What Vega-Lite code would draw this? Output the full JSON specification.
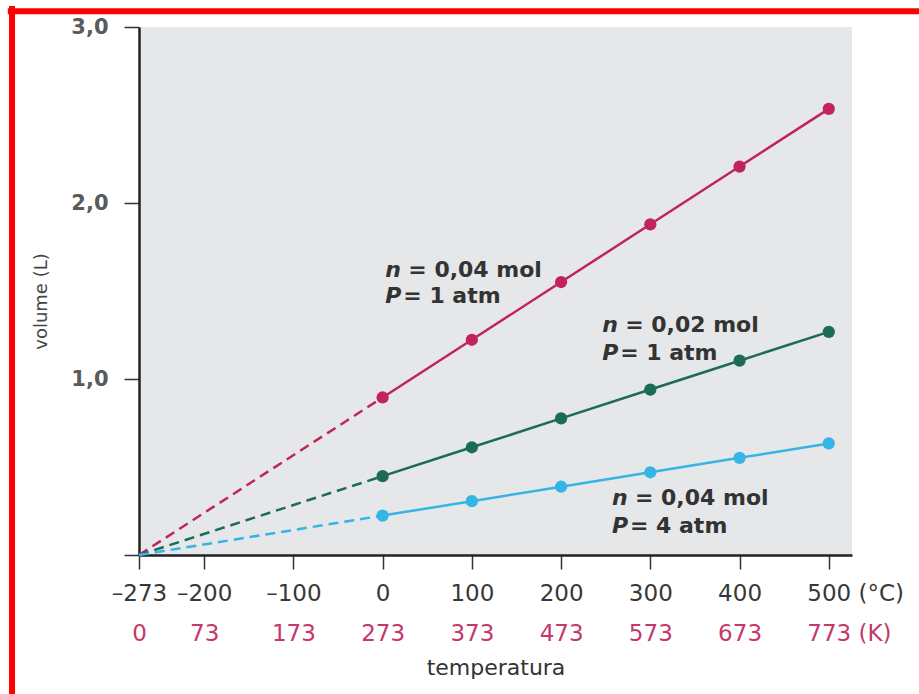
{
  "$schema": "https://vega.github.io/schema/vega-lite/v6.json",
  "width": 713,
  "height": 528,
  "autosize": "none",
  "padding": {"left": 139, "top": 27, "right": 67, "bottom": 139},
  "background": "white",
  "config": {
    "view": {"fill": "#e6e7e9", "stroke": null},
    "font": "DejaVu Sans"
  },
  "datasets": {
    "pts": [
      {"s": "r", "T": 0, "V": 0.895}, {"s": "r", "T": 100, "V": 1.223}, {"s": "r", "T": 200, "V": 1.551},
      {"s": "r", "T": 300, "V": 1.879}, {"s": "r", "T": 400, "V": 2.207}, {"s": "r", "T": 500, "V": 2.535},
      {"s": "g", "T": 0, "V": 0.448}, {"s": "g", "T": 100, "V": 0.612}, {"s": "g", "T": 200, "V": 0.776},
      {"s": "g", "T": 300, "V": 0.94}, {"s": "g", "T": 400, "V": 1.104}, {"s": "g", "T": 500, "V": 1.268},
      {"s": "b", "T": 0, "V": 0.224}, {"s": "b", "T": 100, "V": 0.306}, {"s": "b", "T": 200, "V": 0.388},
      {"s": "b", "T": 300, "V": 0.47}, {"s": "b", "T": 400, "V": 0.552}, {"s": "b", "T": 500, "V": 0.634}
    ],
    "dash": [
      {"s": "r", "T": -273, "V": 0}, {"s": "r", "T": 0, "V": 0.895},
      {"s": "g", "T": -273, "V": 0}, {"s": "g", "T": 0, "V": 0.448},
      {"s": "b", "T": -273, "V": 0}, {"s": "b", "T": 0, "V": 0.224}
    ],
    "notes": [
      {"T": 3, "V": 1.581, "a": "n", "b": "= 0,04 mol"},
      {"T": 3, "V": 1.43, "a": "P", "b": "= 1 atm"},
      {"T": 246, "V": 1.269, "a": "n", "b": "= 0,02 mol"},
      {"T": 246, "V": 1.108, "a": "P", "b": "= 1 atm"},
      {"T": 257, "V": 0.284, "a": "n", "b": "= 0,04 mol"},
      {"T": 257, "V": 0.125, "a": "P", "b": "= 4 atm"}
    ],
    "one": [{}]
  },
  "layer": [
    {
      "data": {"name": "dash"},
      "mark": {"type": "line", "strokeWidth": 2.5, "strokeDash": [10, 6]},
      "encoding": {
        "x": {"field": "T", "type": "quantitative", "scale": {"domain": [-273, 526], "nice": false, "zero": false}, "axis": null},
        "y": {"field": "V", "type": "quantitative", "scale": {"domain": [0, 3], "nice": false},
          "axis": {
            "title": "volume (L)", "values": [0, 1, 2, 3],
            "labelExpr": "datum.value == 0 ? '' : replace(format(datum.value, '.1f'), '.', ',')",
            "grid": false, "tickSize": 15, "tickColor": "#333", "tickWidth": 1.5,
            "domainColor": "#222", "domainWidth": 2.5,
            "labelFontSize": 21, "labelFontWeight": "bold", "labelColor": "#5a5a5a", "labelPadding": 16,
            "titleFontSize": 18, "titleFontWeight": "normal", "titleColor": "#444", "titlePadding": 20,
            "titleY": 274
          }},
        "color": {"field": "s", "type": "nominal", "scale": {"domain": ["r", "g", "b"], "range": ["#c0245a", "#1b6b57", "#35b4e6"]}, "legend": null},
        "detail": {"field": "s"}
      }
    },
    {
      "data": {"name": "pts"},
      "mark": {"type": "line", "strokeWidth": 2.5},
      "encoding": {
        "x": {"field": "T", "type": "quantitative",
          "axis": {
            "title": null, "values": [-273, -200, -100, 0, 100, 200, 300, 400, 500],
            "labelExpr": "datum.value == 500 ? '500 (°C)' : (datum.value < 0 ? '–' + (-datum.value) : '' + datum.value)",
            "grid": false, "tickSize": 14, "tickColor": "#333", "tickWidth": 1.5,
            "domainColor": "#222", "domainWidth": 2.5,
            "labelFontSize": 23, "labelColor": "#383838", "labelPadding": 13,
            "labelBound": false, "labelFlush": false, "labelOverlap": false,
            "labelAlign": {"condition": {"test": "datum.value == 500", "value": "left"}, "value": "center"},
            "labelOffset": {"condition": {"test": "datum.value == 500", "value": -22}, "value": 0}
          }},
        "y": {"field": "V", "type": "quantitative"},
        "color": {"field": "s", "type": "nominal", "legend": null}
      }
    },
    {
      "data": {"name": "pts"},
      "mark": {"type": "circle", "size": 150, "opacity": 1},
      "encoding": {
        "x": {"field": "T", "type": "quantitative",
          "axis": {
            "orient": "bottom", "offset": 65,
            "title": "temperatura", "titleFontSize": 22, "titleFontWeight": "normal", "titleColor": "#333", "titlePadding": 12,
            "values": [-273, -200, -100, 0, 100, 200, 300, 400, 500],
            "labelExpr": "datum.value == 500 ? '773 (K)' : '' + (datum.value + 273)",
            "grid": false, "ticks": false, "domain": false,
            "labelFontSize": 23, "labelColor": "#c4386a", "labelPadding": 2,
            "labelBound": false, "labelFlush": false, "labelOverlap": false,
            "labelAlign": {"condition": {"test": "datum.value == 500", "value": "left"}, "value": "center"},
            "labelOffset": {"condition": {"test": "datum.value == 500", "value": -22}, "value": 0}
          }},
        "y": {"field": "V", "type": "quantitative"},
        "color": {"field": "s", "type": "nominal", "legend": null}
      }
    },
    {
      "data": {"name": "notes"},
      "mark": {"type": "text", "align": "left", "baseline": "alphabetic", "fontSize": 22, "fontWeight": "bold", "fontStyle": "italic", "color": "#333"},
      "encoding": {
        "x": {"field": "T", "type": "quantitative", "axis": null},
        "y": {"field": "V", "type": "quantitative"},
        "text": {"field": "a"}
      }
    },
    {
      "data": {"name": "notes"},
      "transform": [{"filter": "datum.a == 'n'"}],
      "mark": {"type": "text", "align": "left", "baseline": "alphabetic", "fontSize": 22, "fontWeight": "bold", "dx": 23, "color": "#333"},
      "encoding": {
        "x": {"field": "T", "type": "quantitative", "axis": null},
        "y": {"field": "V", "type": "quantitative"},
        "text": {"field": "b"}
      }
    },
    {
      "data": {"name": "notes"},
      "transform": [{"filter": "datum.a == 'P'"}],
      "mark": {"type": "text", "align": "left", "baseline": "alphabetic", "fontSize": 22, "fontWeight": "bold", "dx": 18, "color": "#333"},
      "encoding": {
        "x": {"field": "T", "type": "quantitative", "axis": null},
        "y": {"field": "V", "type": "quantitative"},
        "text": {"field": "b"}
      }
    },
    {
      "data": {"name": "one"},
      "mark": {"type": "rule", "color": "#ff0000", "strokeWidth": 6, "clip": false},
      "encoding": {
        "x": {"datum": -420, "type": "quantitative", "axis": null},
        "x2": {"datum": 602},
        "y": {"datum": 3.09, "type": "quantitative"}
      }
    },
    {
      "data": {"name": "one"},
      "mark": {"type": "rule", "color": "#ff0000", "strokeWidth": 6, "clip": false},
      "encoding": {
        "x": {"datum": -415.3, "type": "quantitative", "axis": null},
        "y": {"datum": 3.12, "type": "quantitative"},
        "y2": {"datum": -0.79}
      }
    }
  ],
  "resolve": {"axis": {"x": "independent"}}
}
